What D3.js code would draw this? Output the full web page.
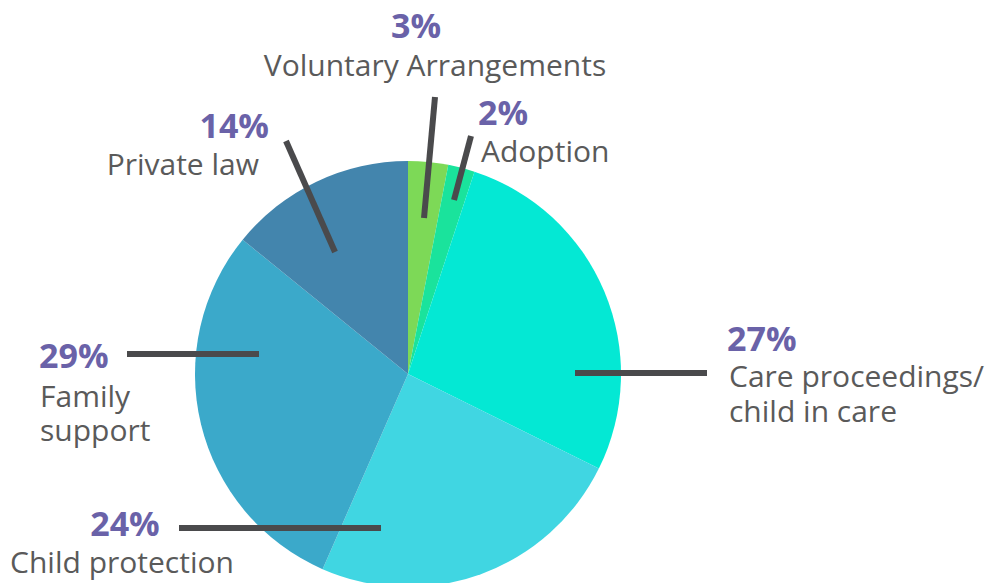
<!DOCTYPE html>
<html>
<head>
<meta charset="utf-8">
<script src="https://cdn.jsdelivr.net/npm/d3@7"></script>
<style>
  html, body { margin: 0; padding: 0; background: #ffffff; }
  svg { display: block; }
  .pct { font-family: "Open Sans", sans-serif; font-weight: 700; font-size: 34px; fill: #6a62a8; }
  .lbl { font-family: "Open Sans", sans-serif; font-weight: 400; font-size: 30px; fill: #5a5a5a; }
</style>
</head>
<body>
<svg id="chart" width="996" height="583"></svg>
<script>
// Share of cases by type (percent), clockwise from 12 o'clock
const categories = ["Voluntary Arrangements", "Adoption", "Care proceedings/child in care",
                    "Child protection", "Family support", "Private law"];
const shares = [3, 2, 27, 24, 29, 14];
const labelLines = [
  ["Voluntary Arrangements"],
  ["Adoption"],
  ["Care proceedings/", "child in care"],
  ["Child protection"],
  ["Family", "support"],
  ["Private law"]
];
const sliceColors = ["#7dd957", "#1ae39c", "#04e8d4", "#40d6e2", "#3ba9ca", "#4385ad"];

const width = 996, height = 583;
const cx = 408, cy = 374, radius = 213;

const svg = d3.select("#chart");

const pie = d3.pie().sort(null).value(d => d.value);
const arc = d3.arc().innerRadius(0).outerRadius(radius);
const rows = categories.map((c, i) => ({ name: c, value: shares[i], color: sliceColors[i], lines: labelLines[i] }));
const arcs = pie(rows);

const g = svg.append("g").attr("transform", `translate(${cx},${cy})`);
g.selectAll("path.slice")
  .data(arcs)
  .join("path")
  .attr("class", "slice")
  .attr("d", arc)
  .attr("fill", d => d.data.color);

// Callout layout: leader line and text block for each slice
const callouts = [
  { line: [[435, 97], [424, 218]], x: 416, anchor: "middle", pctY: 38, textX: 435, textY: [76] },
  { line: [[471, 136], [454, 200]], x: 478, anchor: "start", pctY: 125, textX: 481, textY: [162] },
  { line: [[575, 373], [707, 373]], x: 727, anchor: "start", pctY: 351, textX: 729, textY: [387, 422] },
  { line: [[179, 528], [381, 528]], x: 125, anchor: "middle", pctY: 536, textX: 122, textY: [573] },
  { line: [[127, 354], [259, 354]], x: 39, anchor: "start", pctY: 368, textX: 40, textY: [407, 441] },
  { line: [[286, 141], [335, 252]], x: 269, anchor: "end", pctY: 138, textX: 259, textY: [175] }
];

const ann = svg.append("g");
arcs.forEach((a, i) => {
  const c = callouts[i];
  ann.append("line")
    .attr("x1", c.line[0][0]).attr("y1", c.line[0][1])
    .attr("x2", c.line[1][0]).attr("y2", c.line[1][1])
    .attr("stroke", "#4a4a4c")
    .attr("stroke-width", 6);

  // one text block per callout: percentage on top, category name below
  const t = ann.append("text").attr("text-anchor", c.anchor);
  t.append("tspan")
    .attr("class", "pct")
    .attr("x", c.x).attr("y", c.pctY)
    .text(`${a.data.value}%`);
  a.data.lines.forEach((line, j) => {
    t.append("tspan")
      .attr("class", "lbl")
      .attr("x", c.textX).attr("y", c.textY[j])
      .text(line);
  });
});
</script>
</body>
</html>
